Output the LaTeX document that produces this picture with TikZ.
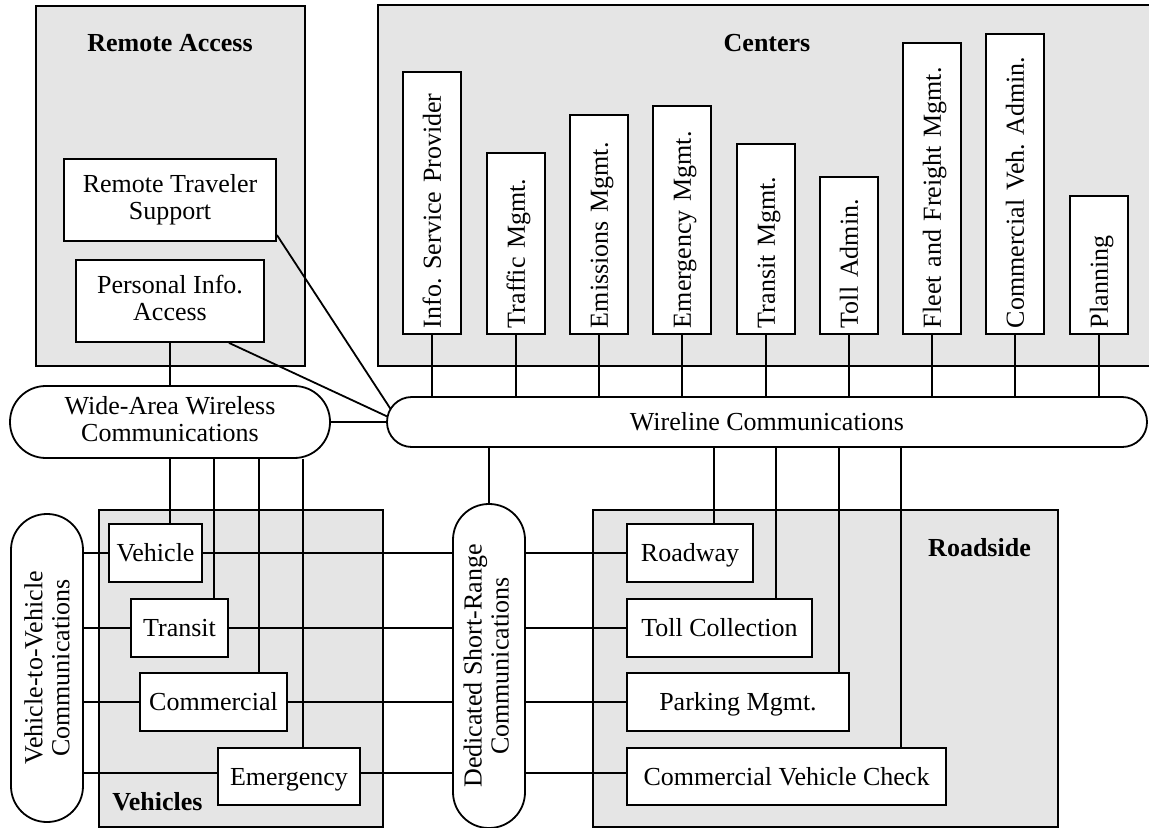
\documentclass[tikz,border=0pt]{standalone}
\usepackage{fontspec}
\setmainfont{Liberation Serif}
\frenchspacing
\usetikzlibrary{calc}
\pgfdeclarelayer{bg}
\pgfdeclarelayer{wires}
\pgfsetlayers{bg,wires,main}
\begin{document}
\begin{tikzpicture}[x=0.5pt, y=-0.5pt,
  every node/.style={font=\fontsize{13pt}{13.5pt}\selectfont},
  group/.style={draw, fill=gray!20, line width=0.9pt},
  grouplabel/.style={font=\fontsize{13pt}{13.5pt}\selectfont\bfseries, inner sep=0pt},
  unit/.style={draw, fill=white, line width=0.9pt, inner sep=0pt, align=center},
  one/.style={text height=8.8pt, text depth=0pt},
  two/.style={text depth=3pt},
  ctr/.style 2 args={unit, rotate=90, anchor=west, minimum width=#1, text width=#2,
    align=left, minimum height=29pt, inner xsep=3pt, inner ysep=0pt,
    text height=8.8pt, text depth=0pt},
  pill/.style={draw, fill=white, line width=0.9pt, rounded corners=#1,
    align=center, inner sep=0pt},
  link/.style={line width=0.9pt}]

\useasboundingbox (0,0) rectangle (1149,828);

% ---------- subsystem groups ----------
\begin{pgfonlayer}{bg}
  \draw[group] (36,6) rectangle (305,366);
  \begin{scope}
    \clip (0,0) rectangle (1149,828);
    \draw[group] (378,5) rectangle (1170,366);
  \end{scope}
  \draw[group] (99,510) rectangle (383,827);
  \draw[group] (593,510) rectangle (1058,827);
\end{pgfonlayer}

\node[grouplabel, anchor=base] (lblRA) at (170,52) {Remote Access};
\node[grouplabel, anchor=base] (lblC) at (767,52) {Centers};
\node[grouplabel, anchor=base] (lblR) at (979.5,556) {Roadside};
\node[grouplabel, anchor=base west] (lblV) at (112,810) {Vehicles};

% ---------- remote access ----------
\node[unit, two, minimum width=106pt, minimum height=41pt] (rts) at (170,200) {Remote Traveler\\Support};
\node[unit, two, minimum width=94pt, minimum height=41pt] (pia) at (170,301) {Personal Info.\\Access};

% ---------- communications ----------
\node[pill=17.9pt, two, minimum width=160pt, minimum height=36pt] (waw) at (170,422) {Wide-Area Wireless\\Communications};
\node[pill=12.4pt, one, minimum width=380pt, minimum height=25pt] (wire) at (767,422) {Wireline Communications};
\node[pill=17.9pt, rotate=90, minimum width=154pt, minimum height=36pt] (v2v) at (47,668) {Vehicle-to-Vehicle\\Communications};
\node[pill=17.9pt, two, rotate=90, minimum width=162pt, minimum height=36pt] (dsrc) at (489,666) {Dedicated Short-Range\\Communications};

% ---------- centers ----------
\node[ctr={131pt}{125pt}] (isp) at (432,335) {Info. Service Provider};
\node[ctr={90.5pt}{84.5pt}] (tm) at (516,335) {Traffic Mgmt.};
\node[ctr={109.5pt}{103.5pt}] (emis) at (599,335) {Emissions Mgmt.};
\node[ctr={114pt}{108pt}] (emgm) at (682,335) {Emergency Mgmt.};
\node[ctr={95pt}{89pt}] (trm) at (766,335) {Transit Mgmt.};
\node[ctr={78.5pt}{72.5pt}] (toll) at (849,335) {Toll Admin.};
\node[ctr={145.5pt}{139.5pt}] (ffm) at (932,335) {Fleet and Freight Mgmt.};
\node[ctr={150pt}{144pt}] (cva) at (1015,335) {Commercial Veh. Admin.};
\node[ctr={69pt}{63pt}] (plan) at (1099,335) {Planning};

% ---------- vehicles ----------
\node[unit, one, minimum width=46.5pt, minimum height=29pt] (veh) at (155.5,553) {Vehicle};
\node[unit, one, minimum width=48.5pt, minimum height=29pt] (tra) at (179.5,628) {Transit};
\node[unit, one, minimum width=73.5pt, minimum height=29pt] (com) at (213.5,702) {Commercial};
\node[unit, one, minimum width=71pt, minimum height=28.5pt] (eme) at (289,776.5) {Emergency};

% ---------- roadside ----------
\node[unit, one, minimum width=63pt, minimum height=29pt] (road) at (690,553) {Roadway};
\node[unit, one, minimum width=92.5pt, minimum height=29pt] (tollc) at (719.5,628) {Toll Collection};
\node[unit, one, minimum width=111pt, minimum height=29pt] (park) at (738,702) {Parking Mgmt.};
\node[unit, one, minimum width=159.5pt, minimum height=28.5pt] (cvc) at (786.5,776.5) {Commercial Vehicle Check};

% ---------- tap positions and row heights ----------
\coordinate (hub) at ($(wire.west)+(13,0)$);
\coordinate (xT) at (214,0);
\coordinate (xC) at (259,0);
\coordinate (xE) at (303,0);
\coordinate (xR) at (714,0);
\coordinate (xTC) at (776,0);
\coordinate (xP) at (839,0);
\coordinate (xCV) at (901,0);
\coordinate (r1) at (0,553);
\coordinate (r2) at (0,628);
\coordinate (r3) at (0,702);
\coordinate (r4) at (0,773);

% ---------- connectors ----------
\begin{pgfonlayer}{wires}
  \foreach \c in {isp,tm,emis,emgm,trm,toll,ffm,cva,plan}
    \draw[link] (\c.west) -- (\c.west |- wire.north);

  \draw[link] (pia.south) -- (pia.south |- waw.north);
  \draw[link] ($(pia.south)+(59,0)$) -- (hub);
  \draw[link] ($(rts.east)+(0,35)$) -- (hub);
  \draw[link] (waw.east) -- (wire.west);

  \draw[link] (waw.south) -- (waw.south |- veh.north);
  \draw[link] (waw.south -| xT) -- (tra.north -| xT);
  \draw[link] (waw.south -| xC) -- (com.north -| xC);
  \draw[link] (waw.south -| xE) -- (eme.north -| xE);

  \draw[link] (dsrc.east) -- (dsrc.east |- wire.south);
  \draw[link] (wire.south -| xR) -- (road.north -| xR);
  \draw[link] (wire.south -| xTC) -- (tollc.north -| xTC);
  \draw[link] (wire.south -| xP) -- (park.north -| xP);
  \draw[link] (wire.south -| xCV) -- (cvc.north -| xCV);

  \foreach \v/\r/\rr in {veh/r1/road, tra/r2/tollc, com/r3/park, eme/r4/cvc} {
    \draw[link] (v2v.south |- \r) -- (\v.west |- \r);
    \draw[link] (\v.east |- \r) -- (dsrc.north |- \r);
    \draw[link] (dsrc.south |- \r) -- (\rr.west |- \r);
  }
\end{pgfonlayer}
\end{tikzpicture}
\end{document}
